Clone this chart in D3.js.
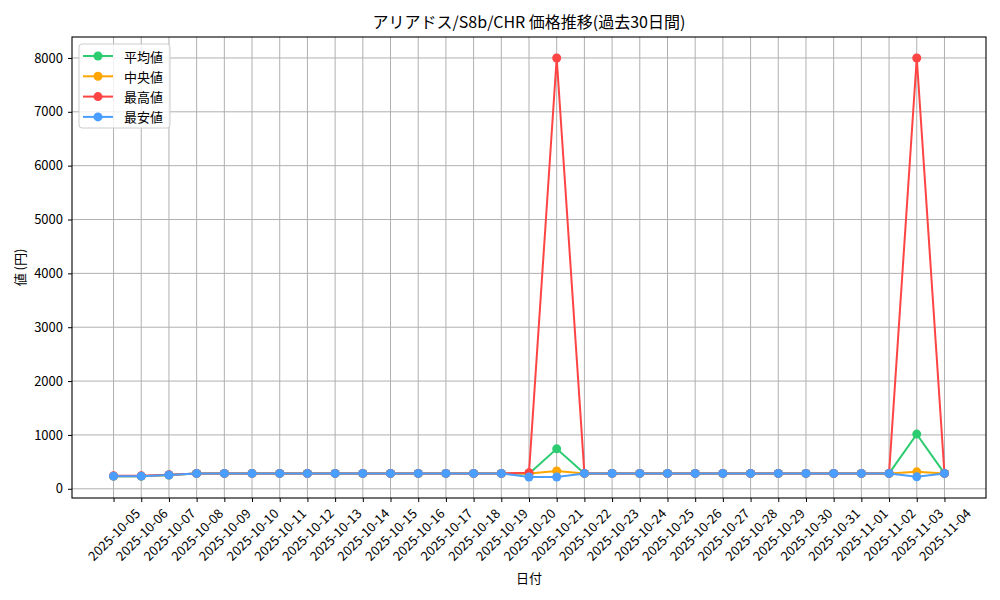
<!DOCTYPE html>
<html><head><meta charset="utf-8">
<script src="https://cdn.jsdelivr.net/npm/d3@7"></script>
<style>
body{margin:0;background:#fff;}
svg{display:block;}
text{font-family:"Noto Sans CJK JP","DejaVu Sans",sans-serif;fill:#000;}
</style></head>
<body>
<svg id="c" width="1000" height="600"></svg>
<script>
const dates = ["2025-10-05","2025-10-06","2025-10-07","2025-10-08","2025-10-09","2025-10-10","2025-10-11","2025-10-12","2025-10-13","2025-10-14","2025-10-15","2025-10-16","2025-10-17","2025-10-18","2025-10-19","2025-10-20","2025-10-21","2025-10-22","2025-10-23","2025-10-24","2025-10-25","2025-10-26","2025-10-27","2025-10-28","2025-10-29","2025-10-30","2025-10-31","2025-11-01","2025-11-02","2025-11-03","2025-11-04"];
const avgValues =    [235,235,255,285,285,285,285,285,285,285,285,285,285,285,285,278,742,285,285,285,285,285,285,285,285,285,285,285,285,1015,285];
const medianValues = [235,235,255,285,285,285,285,285,285,285,285,285,285,285,285,285,330,285,285,285,285,285,285,285,285,285,285,285,285,315,285];
const maxValues =    [240,240,262,285,285,285,285,285,285,285,285,285,285,285,285,300,8000,285,285,285,285,285,285,285,285,285,285,285,285,8000,285];
const minValues =    [235,235,255,285,285,285,285,285,285,285,285,285,285,285,285,218,218,285,285,285,285,285,285,285,285,285,285,285,285,222,285];
const seriesNames = ["平均値","中央値","最高値","最安値"];
const seriesColors = ["#2ecc71","#ffa500","#ff4444","#4a9eff"];
const yTicks = [0,1000,2000,3000,4000,5000,6000,7000,8000];
const title = "アリアドス/S8b/CHR 価格推移(過去30日間)";
const xLabel = "日付";
const yLabel = "値 (円)";

const series = [avgValues, medianValues, maxValues, minValues];
const svg = d3.select("#c");
const L = 72, R = 986, T = 37, B = 498;

const n = dates.length;
const x = d3.scaleLinear().domain([-0.05*(n-1), (n-1)*1.05]).range([L, R]);
const allV = series.flat();
const vmin = d3.min(allV), vmax = d3.max(allV), span = vmax - vmin;
const y = d3.scaleLinear().domain([vmin - 0.05*span, vmax + 0.05*span]).range([B, T]);

// grid
const g = svg.append("g");
g.selectAll("line.vg").data(dates).join("line")
  .attr("x1",(d,i)=>x(i)).attr("x2",(d,i)=>x(i)).attr("y1",T).attr("y2",B)
  .attr("stroke","#b0b0b0").attr("stroke-width",1);
g.selectAll("line.hg").data(yTicks).join("line")
  .attr("x1",L).attr("x2",R).attr("y1",d=>y(d)).attr("y2",d=>y(d))
  .attr("stroke","#b0b0b0").attr("stroke-width",1);

// axes
const xAxis = d3.axisBottom(x).tickValues(d3.range(n)).tickFormat("").tickSize(4).tickSizeOuter(0);
const xg = svg.append("g").attr("transform",`translate(0,${B})`).call(xAxis);
xg.select(".domain").remove();
xg.selectAll("line").attr("stroke","#000").attr("stroke-width",1);
const yAxis = d3.axisLeft(y).tickValues(yTicks).tickFormat(d3.format("d")).tickSize(4).tickSizeOuter(0).tickPadding(5);
const yg = svg.append("g").attr("transform",`translate(${L},0)`).call(yAxis);
yg.select(".domain").remove();
yg.selectAll("line").attr("stroke","#000").attr("stroke-width",1);
yg.selectAll("text").attr("font-size",13).attr("font-family",'"Noto Sans CJK JP",sans-serif');

// x tick labels rotated 45, bbox centered under tick
const labG = svg.append("g");
dates.forEach((d,i)=>{
  const t = labG.append("text").text(d).attr("font-size",13)
    .attr("text-anchor","middle").attr("dominant-baseline","central");
  const w = t.node().getComputedTextLength();
  const h = 13;
  const half = (w + h) / (2*Math.SQRT2);
  t.attr("transform",`translate(${x(i)},${506 + half}) rotate(-45)`);
});

// lines and markers
series.forEach((vals,si)=>{
  const line = d3.line().x((d,i)=>x(i)).y(d=>y(d));
  svg.append("path").datum(vals).attr("d",line).attr("fill","none")
    .attr("stroke",seriesColors[si]).attr("stroke-width",2);
  svg.append("g").selectAll("circle").data(vals).join("circle")
    .attr("cx",(d,i)=>x(i)).attr("cy",d=>y(d)).attr("r",4.5)
    .attr("fill",seriesColors[si]);
});

// frame
svg.append("rect").attr("x",L).attr("y",T).attr("width",R-L).attr("height",B-T)
  .attr("fill","none").attr("stroke","#000").attr("stroke-width",1.1);

// title & labels
svg.append("text").attr("x",(L+R)/2).attr("y",28).attr("text-anchor","middle")
  .attr("font-size",16).text(title);
svg.append("text").attr("x",(L+R)/2).attr("y",583).attr("text-anchor","middle")
  .attr("font-size",13).text(xLabel);
svg.append("text").attr("transform",`translate(25,${(T+B)/2}) rotate(-90)`)
  .attr("text-anchor","middle").attr("font-size",13).attr("xml:space","preserve").text(yLabel);

// legend
const lg = svg.append("g");
lg.append("rect").attr("x",79).attr("y",44).attr("width",91).attr("height",84)
  .attr("rx",3).attr("fill","#fff").attr("fill-opacity",0.8).attr("stroke","#cccccc");
seriesNames.forEach((nm,i)=>{
  const yy = 56 + i*20.3;
  lg.append("line").attr("x1",83).attr("x2",113).attr("y1",yy).attr("y2",yy)
    .attr("stroke",seriesColors[i]).attr("stroke-width",2);
  lg.append("circle").attr("cx",98).attr("cy",yy).attr("r",4.5).attr("fill",seriesColors[i]);
  lg.append("text").attr("x",124).attr("y",yy).attr("dominant-baseline","central")
    .attr("font-size",13).text(nm);
});
</script>
</body></html>
